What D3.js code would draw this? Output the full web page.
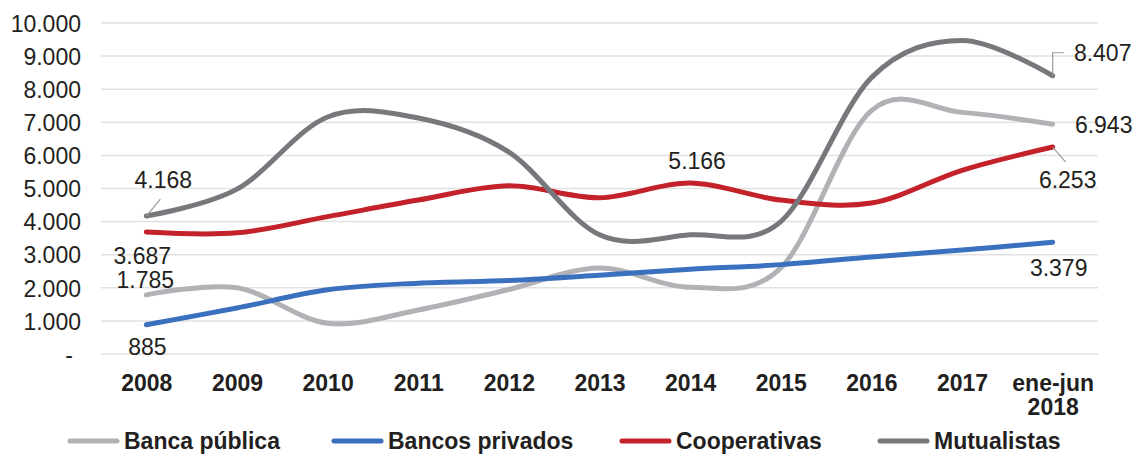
<!DOCTYPE html>
<html>
<head>
<meta charset="utf-8">
<script src="https://cdn.jsdelivr.net/npm/d3@7"></script>
<style>
  html, body { margin: 0; padding: 0; background: #fff; }
  svg { display: block; font-family: "Liberation Sans", Arial, Helvetica, sans-serif; }
</style>
</head>
<body>
<svg id="chart" width="1143" height="456"></svg>
<script>
// Categories along the x axis
const categories = ["2008", "2009", "2010", "2011", "2012", "2013", "2014", "2015", "2016", "2017", "ene-jun\n2018"];

// Series values
const bancaPublica   = [1785, 2000,  930, 1330, 1950, 2600, 2020, 2600, 7350, 7300, 6943];
const bancosPrivados = [ 885, 1390, 1940, 2140, 2220, 2380, 2560, 2700, 2930, 3140, 3379];
const cooperativas   = [3687, 3660, 4150, 4650, 5080, 4720, 5166, 4650, 4560, 5550, 6253];
const mutualistas    = [4168, 4980, 7160, 7130, 6100, 3600, 3600, 4000, 8350, 9470, 8407];

// Y axis ticks
const yTicks = [0, 1000, 2000, 3000, 4000, 5000, 6000, 7000, 8000, 9000, 10000];

const series = [
  { name: "Banca pública",   values: bancaPublica,   color: "#b1b2b6" },
  { name: "Bancos privados", values: bancosPrivados, color: "#3b70bf" },
  { name: "Cooperativas",    values: cooperativas,   color: "#c3222b" },
  { name: "Mutualistas",     values: mutualistas,    color: "#77787c" }
];

const svg = d3.select("#chart");
const textColor = "#231f20";

const x = d3.scalePoint().domain(categories).range([101, 1098]).padding(0.5);
const y = d3.scaleLinear().domain([0, 10000]).range([354, 23]);

const locale = d3.formatLocale({ decimal: ",", thousands: ".", grouping: [3], currency: ["$", ""] });
const fmt = locale.format(",d");
const tickFmt = v => v === 0 ? "-" : fmt(v);

// Gridlines
svg.append("g")
  .selectAll("line")
  .data(yTicks)
  .join("line")
  .attr("x1", 101).attr("x2", 1098)
  .attr("y1", d => y(d)).attr("y2", d => y(d))
  .attr("stroke", "#e1e1e1")
  .attr("stroke-width", 1.5);

// Y axis labels
const yAxis = d3.axisLeft(y).tickValues(yTicks).tickFormat(tickFmt).tickSize(0).tickPadding(0);
const yg = svg.append("g").attr("transform", "translate(81,0)").call(yAxis);
yg.select(".domain").remove();
yg.selectAll("text")
  .attr("font-size", 23)
  .attr("fill", textColor)
  .attr("font-family", "Liberation Sans, Arial, sans-serif")
  .attr("dy", "0.36em");
yg.selectAll(".tick")
  .filter(d => d === 0)
  .select("text")
  .attr("dx", -8);

// X axis labels
const xAxis = d3.axisBottom(x).tickSize(0).tickPadding(0).tickFormat("");
const xg = svg.append("g").attr("transform", "translate(0,368)").call(xAxis);
xg.select(".domain").remove();
xg.selectAll(".tick").each(function (d) {
  const lines = d.split("\n");
  const t = d3.select(this).append("text")
    .attr("text-anchor", "middle")
    .attr("font-size", 23)
    .attr("font-weight", "bold")
    .attr("fill", textColor);
  lines.forEach((ln, i) => {
    t.append("tspan").attr("x", 0).attr("y", 23 + i * 24).text(ln);
  });
});

// Smoothed series lines
const line = d3.line()
  .x((d, i) => x(categories[i]))
  .y(d => y(d))
  .curve(d3.curveCardinal.tension(0));

svg.append("g")
  .selectAll("path")
  .data(series)
  .join("path")
  .attr("d", s => line(s.values))
  .attr("fill", "none")
  .attr("stroke", d => d.color)
  .attr("stroke-width", 5)
  .attr("stroke-linecap", "round")
  .attr("stroke-linejoin", "round");

// Data labels with optional leader lines
const byName = Object.fromEntries(series.map(s => [s.name, s]));
const labels = [
  { s: "Mutualistas",     i: 0,  dx: 17,  dy: -36, leader: [[0, 0], [14, -17]] },
  { s: "Cooperativas",    i: 0,  dx: -4,  dy: 24 },
  { s: "Banca pública",   i: 0,  dx: -1,  dy: -15 },
  { s: "Bancos privados", i: 0,  dx: 1,   dy: 22 },
  { s: "Cooperativas",    i: 6,  dx: 7,   dy: -22 },
  { s: "Mutualistas",     i: 10, dx: 50,  dy: -23, leader: [[0, 0], [0, -23], [11, -23]] },
  { s: "Banca pública",   i: 10, dx: 51,  dy: 1 },
  { s: "Cooperativas",    i: 10, dx: 15,  dy: 33, leader: [[0, 0], [13, 15]] },
  { s: "Bancos privados", i: 10, dx: 6,   dy: 26 }
];

const lg = svg.append("g");
labels.forEach(l => {
  const s = byName[l.s];
  const px = x(categories[l.i]);
  const py = y(s.values[l.i]);
  if (l.leader) {
    lg.append("path")
      .attr("d", d3.line()(l.leader.map(p => [px + p[0], py + p[1]])))
      .attr("fill", "none")
      .attr("stroke", "#9a9a9a")
      .attr("stroke-width", 1.2);
  }
  lg.append("text")
    .attr("x", px + l.dx)
    .attr("y", py + l.dy)
    .attr("dy", "0.36em")
    .attr("text-anchor", "middle")
    .attr("font-size", 23)
    .attr("fill", textColor)
    .text(fmt(s.values[l.i]));
});

// Legend
const legendX = [68, 332, 620, 878];
const leg = svg.append("g").attr("transform", "translate(0,441)");
series.forEach((s, k) => {
  const g = leg.append("g").attr("transform", `translate(${legendX[k]},0)`);
  g.append("line")
    .attr("x1", 2).attr("x2", 49)
    .attr("y1", 0).attr("y2", 0)
    .attr("stroke", s.color)
    .attr("stroke-width", 5)
    .attr("stroke-linecap", "round");
  g.append("text")
    .attr("x", 56)
    .attr("y", 0)
    .attr("dy", "0.36em")
    .attr("font-size", 23)
    .attr("font-weight", "bold")
    .attr("fill", textColor)
    .text(s.name);
});
</script>
</body>
</html>
